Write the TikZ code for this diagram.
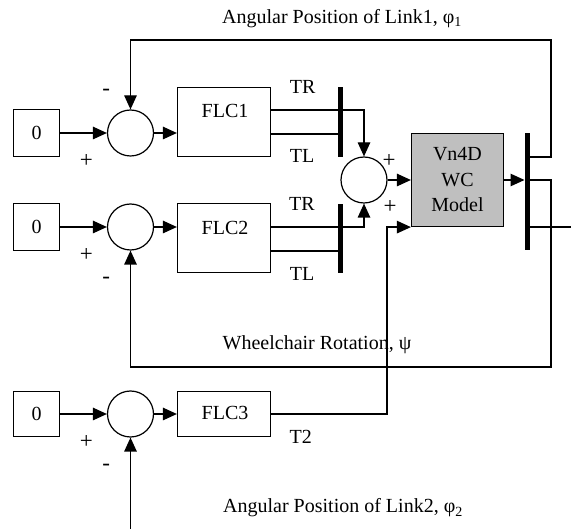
\documentclass[tikz,border=0pt]{standalone}
\usepackage{fontspec}
\setmainfont{Liberation Serif}
\usetikzlibrary{arrows.meta}
\begin{document}
\begin{tikzpicture}[x=1pt,y=-1pt,
  every node/.style={font=\fontsize{20}{25.5}\selectfont, inner sep=0pt},
  ln/.style={line width=1.2pt},
  arr/.style={ln, -{Triangle[length=14pt,width=12.5pt]}},
  blk/.style={draw, line width=1.2pt, inner sep=0pt},
  sumc/.style={draw, circle, line width=1.2pt, minimum size=46pt},
  bus/.style={fill=black, minimum width=5pt},
  txt/.style={anchor=base},
  sgn/.style={font=\fontsize{23}{25}\selectfont}
]
\useasboundingbox (0,0) rectangle (571,529);
% input boxes
\node[blk, minimum width=46pt, minimum height=47pt] (z1) at (36.5,133) {0};
\node[blk, minimum width=46pt, minimum height=47pt] (z2) at (36.5,227) {0};
\node[blk, minimum width=46pt, minimum height=45pt] (z3) at (36.5,414) {0};
% summing junctions
\node[sumc] (s1) at (130.5,133) {};
\node[sumc] (s2) at (130.5,227) {};
\node[sumc] (s3) at (130.5,414) {};
\node[sumc] (s4) at (364,180) {};
% controllers
\node[blk, minimum width=93pt, minimum height=69pt] (f1) at (224,122) {};
\node[blk, minimum width=93pt, minimum height=69pt] (f2) at (224,238) {};
\node[blk, minimum width=93pt, minimum height=45pt] (f3) at (224,414) {};
\node[txt] (f1t) at (225,117.3) {FLC1};
\node[txt] (f2t) at (225,234.3) {FLC2};
\node[txt] (f3t) at (225,420) {FLC3};
% model
\node[blk, fill=black!25, minimum width=92pt, minimum height=93pt, align=center] (wc) at (457.5,180) {Vn4D\\WC\\Model};
% corner coordinates
\coordinate (o1) at (527,157);
\coordinate (o2) at (527,180);
\coordinate (o3) at (527,227);
\coordinate (oe) at (571,227);
\coordinate (c1) at (551,157);
\coordinate (c2) at (551,40);
\coordinate (c3) at (551,180);
\coordinate (c4) at (551,367);
\coordinate (bot) at (130.5,529);
% connectors
\draw[arr] (z1) -- (s1);
\draw[arr] (z2) -- (s2);
\draw[arr] (z3) -- (s3);
\draw[arr] (s1.east) -- (s1.east -| f1.west);
\draw[arr] (s2.east) -- (s2.east -| f2.west);
\draw[arr] (s3) -- (f3);
\draw[arr] ([yshift=12pt]f1.east) -| (s4.north);
\draw[ln] ([yshift=-12pt]f1.east) -- ([yshift=-12pt]f1.east -| 340.7,0);
\draw[arr] ([yshift=11pt]f2.east) -| (s4.south);
\draw[ln] ([yshift=-13pt]f2.east) -- ([yshift=-13pt]f2.east -| 340.7,0);
\draw[arr] (s4) -- (wc);
\draw[arr] (f3.east) -| ([xshift=-24pt]wc.south west) -- (wc.south west);
\draw[arr] (wc.east) -- (wc.east -| 524.5,0);
\draw[arr] (o1) -- (c1) -- (c2) -| (s1.north);
\draw[arr] (o2) -- (c3) -- (c4) -| (s2.south);
\draw[ln] (o3) -- (oe);
\draw[arr] (bot) -- (s3.south);
% buses
\node[bus, minimum height=70pt] (b1) at (340.7,122) {};
\node[bus, minimum height=69pt] (b3) at (340.7,238.5) {};
\node[bus, minimum height=117pt] (b2) at (527,191.5) {};
% labels
\node[txt] (l1) at (342,23.5) {Angular Position of Link1, φ\textsubscript{1}};
\node[txt] (l2) at (317,350) {Wheelchair Rotation, ψ};
\node[txt] (l3) at (343,513) {Angular Position of Link2, φ\textsubscript{2}};
\node[txt] (tr1) at (302.7,94) {TR};
\node[txt] (tl1) at (302,163) {TL};
\node[txt] (tr2) at (302,210.7) {TR};
\node[txt] (tl2) at (302,280.7) {TL};
\node[txt] (t2) at (300.7,443.3) {T2};
% signs
\node[sgn] (m1) at (106.3,92) {-};
\node[sgn] (p1) at (86.3,161) {+};
\node[sgn] (p2) at (86.3,255) {+};
\node[sgn] (m2) at (106.3,280) {-};
\node[sgn] (p3) at (86.3,442) {+};
\node[sgn] (m3) at (106.3,467) {-};
\node[sgn] (p4) at (389,161) {+};
\node[sgn] (p5) at (390,207) {+};
\end{tikzpicture}
\end{document}
